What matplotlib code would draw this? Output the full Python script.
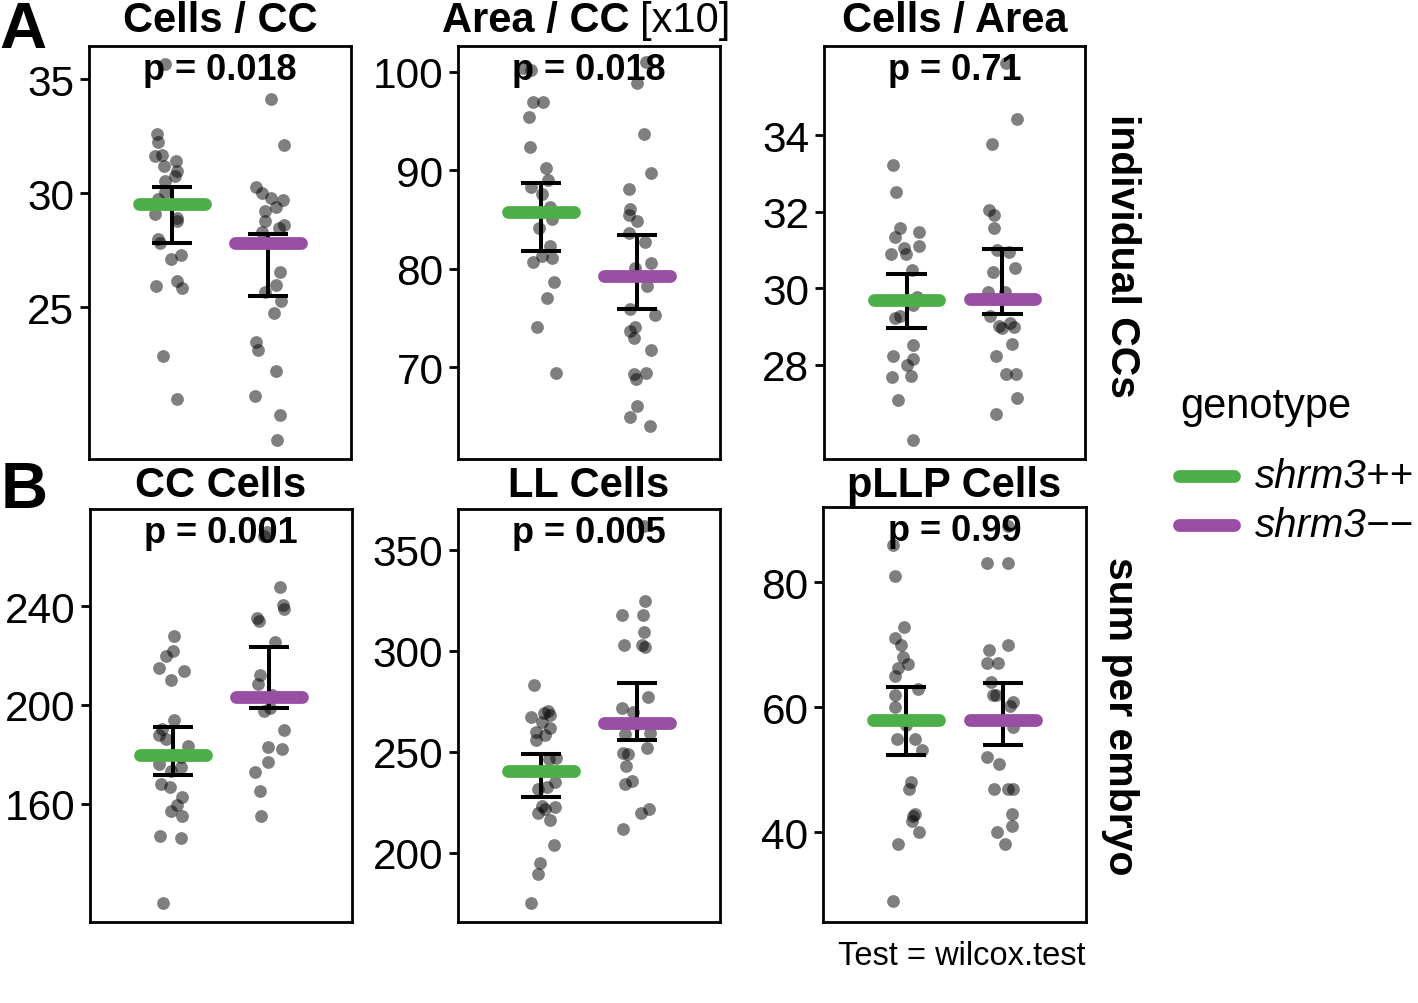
import matplotlib
matplotlib.use('Agg')
import matplotlib.pyplot as plt
from matplotlib.lines import Line2D
import numpy as np

plt.rcParams['font.family'] = ['Liberation Sans', 'DejaVu Sans']

# ---- data (values + horizontal jitter in category units) ----
groups = ['shrm3++', 'shrm3\u2212\u2212']
colors = ['#4DAF4A', '#984EA3']

# A: Cells / CC
cells_cc_wt = [35.67, 32.6, 32.26, 31.65, 31.7, 31.4, 31.2, 30.99, 30.77, 30.55, 30.05, 29.75,
               29.1, 28.9, 28.8, 28.0, 27.8, 27.1, 27.3, 26.17, 25.86, 25.92, 22.88, 20.98]
cells_cc_wt_jit = [-0.07, -0.15, -0.14, -0.17, -0.10, 0.04, -0.08, 0.05, 0.03, -0.07, -0.07, -0.145,
                   -0.17, 0.05, 0.05, -0.145, -0.12, -0.01, 0.09, 0.05, 0.11, -0.16, -0.09, 0.05]
cells_cc_mut = [34.13, 32.13, 30.26, 30.0, 29.78, 29.7, 29.24, 29.4, 28.8, 28.6, 28.29, 28.5,
                26.53, 26.0, 25.66, 25.29, 24.74, 23.5, 23.14, 22.19, 21.1, 20.29, 19.19]
cells_cc_mut_jit = [0.03, 0.16, -0.13, -0.06, 0.03, 0.15, -0.03, 0.08, -0.03, 0.16, -0.06, 0.11,
                    0.12, 0.08, -0.03, 0.13, 0.06, -0.125, -0.11, 0.08, -0.14, 0.12, 0.09]
cells_cc_mean = [29.53, 27.83]
cells_cc_lo = [27.83, 25.51]
cells_cc_hi = [30.26, 28.21]

# A: Area / CC [x10]
area_cc_wt = [100.36, 100.15, 96.94, 96.94, 95.35, 92.37, 90.17, 88.98, 88.24, 87.56, 86.28, 85.03,
              84.08, 82.3, 81.3, 81.03, 80.7, 78.66, 77.0, 74.03, 69.36]
area_cc_wt_jit = [-0.19, -0.10, -0.08, 0.02, -0.125, -0.11, 0.05, 0.07, -0.10, 0.01, 0.10, 0.12,
                  -0.02, 0.09, 0.01, 0.12, -0.08, 0.14, 0.06, -0.04, 0.16]
area_cc_mut = [100.93, 98.83, 93.65, 89.7, 88.07, 86.04, 85.4, 84.85, 83.57, 82.72, 80.6, 80.1,
               78.25, 75.9, 75.28, 74.03, 73.7, 72.94, 71.76, 69.4, 69.3, 68.8, 66.0, 64.9, 64.04]
area_cc_mut_jit = [0.09, 0.0, 0.07, 0.14, -0.08, -0.07, -0.08, 0.0, -0.08, 0.08, 0.14, -0.02,
                   0.10, -0.07, 0.19, -0.02, -0.07, -0.03, 0.14, 0.09, -0.03, -0.01, 0.0, -0.07, 0.135]
area_cc_mean = [85.7, 79.2]
area_cc_lo = [81.75, 75.9]
area_cc_hi = [88.65, 83.4]

# A: Cells / Area
cells_area_wt = [33.22, 32.52, 31.58, 31.47, 31.34, 31.1, 31.04, 30.89, 30.89, 30.48, 29.76, 29.56,
                 29.23, 29.27, 28.52, 28.23, 28.15, 28.0, 27.71, 27.68, 27.08, 26.04]
cells_area_wt_jit = [-0.14, -0.11, -0.07, 0.125, -0.125, 0.13, -0.03, -0.16, -0.01, 0.055, 0.11, 0.065,
                     -0.125, -0.065, 0.07, -0.145, 0.065, 0.0, 0.05, -0.15, -0.09, 0.07]
cells_area_mut = [35.89, 34.41, 33.76, 32.04, 31.91, 31.58, 31.0, 30.95, 30.54, 30.43, 29.89, 29.89,
                  29.28, 29.1, 29.02, 29.0, 28.95, 28.54, 28.22, 27.75, 27.75, 27.13, 26.71]
cells_area_mut_jit = [0.04, 0.15, -0.105, -0.145, -0.09, -0.09, -0.06, 0.065, 0.135, -0.10, -0.15, 0.03,
                      -0.125, 0.075, -0.04, 0.12, -0.005, 0.10, -0.065, 0.04, 0.145, 0.15, -0.07]
cells_area_mean = [29.69, 29.71]
cells_area_lo = [28.97, 29.34]
cells_area_hi = [30.37, 31.02]

# B: CC Cells
cc_cells_wt = [228.1, 222.0, 220.0, 214.8, 213.9, 209.9, 193.7, 190.3, 187.6, 186.2, 183.3, 178.8,
               176.1, 174.8, 173.4, 168.0, 166.7, 162.6, 159.5, 157.0, 154.8, 146.8, 146.0, 119.8]
cc_cells_wt_jit = [0.01, 0.0, -0.07, -0.14, 0.12, -0.02, 0.01, -0.11, -0.14, -0.07, 0.16, 0.08,
                   -0.14, 0.08, -0.02, -0.12, -0.03, 0.10, 0.04, -0.02, 0.10, -0.13, 0.08, -0.10]
cc_cells_mut = [269.9, 268.3, 247.9, 240.6, 238.9, 235.1, 233.9, 225.4, 212.1, 208.5, 204.0, 197.4,
                198.7, 189.9, 182.9, 182.2, 176.8, 172.7, 164.9, 154.8]
cc_cells_mut_jit = [-0.02, -0.055, 0.11, 0.14, 0.15, -0.13, -0.11, 0.06, -0.10, -0.12, 0.03, -0.055,
                    0.01, 0.15, -0.01, 0.13, -0.015, -0.15, -0.10, -0.08]
cc_cells_mean = [179.5, 203.0]
cc_cells_lo = [171.7, 198.65]
cc_cells_hi = [191.2, 223.3]

# B: LL Cells
ll_cells_wt = [283.0, 270.3, 269.0, 267.0, 268.1, 264.5, 262.0, 259.9, 258.2, 255.7, 246.8, 246.3,
               240.5, 235.1, 232.3, 231.4, 223.2, 222.8, 221.5, 219.9, 216.1, 203.7, 194.8, 189.6, 174.9]
ll_cells_wt_jit = [-0.07, 0.07, 0.03, -0.10, 0.095, 0.01, 0.095, -0.05, 0.04, -0.05, 0.16, 0.08,
                   0.04, 0.15, 0.06, -0.03, 0.01, 0.15, 0.04, -0.03, 0.095, 0.14, -0.01, -0.03, -0.10]
ll_cells_mut = [362.0, 324.8, 317.8, 317.8, 309.1, 302.8, 302.8, 301.7, 276.9, 271.9, 269.8, 263.7,
                258.7, 259.2, 252.1, 249.6, 248.8, 243.0, 233.9, 235.6, 221.9, 219.9, 211.9]
ll_cells_mut_jit = [0.07, 0.08, -0.16, 0.06, 0.07, -0.14, 0.055, 0.08, 0.11, -0.16, -0.04, 0.0,
                    -0.13, 0.13, 0.10, -0.15, -0.10, -0.12, -0.13, -0.05, 0.12, 0.045, -0.15]
ll_cells_mean = [240.5, 264.0]
ll_cells_lo = [227.6, 255.7]
ll_cells_hi = [249.1, 283.8]

# B: pLLP Cells
pllp_cells_wt = [86.0, 81.0, 72.9, 71.1, 69.9, 68.1, 66.9, 66.2, 65.0, 63.0, 62.0, 60.1,
                 57.1, 55.0, 55.0, 53.1, 48.0, 47.0, 43.0, 42.6, 41.9, 40.1, 38.1, 29.0]
pllp_cells_wt_jit = [-0.14, -0.12, -0.02, -0.12, -0.05, -0.03, 0.02, -0.08, -0.12, 0.12, -0.12, -0.12,
                     0.0, -0.09, 0.09, 0.16, 0.045, 0.03, 0.09, 0.07, 0.06, 0.13, -0.08, -0.14]
pllp_cells_mut = [89.0, 83.1, 83.1, 70.0, 69.1, 67.0, 67.0, 64.1, 62.0, 61.9, 60.9, 60.2,
                  56.9, 52.0, 51.0, 46.9, 46.9, 46.9, 42.9, 41.0, 40.0, 38.1]
pllp_cells_mut_jit = [0.05, -0.165, 0.05, 0.05, -0.14, -0.16, -0.05, -0.125, -0.10, -0.07, 0.10, 0.07,
                      0.10, -0.16, -0.04, -0.09, 0.05, 0.11, 0.09, 0.09, -0.06, 0.02]
pllp_cells_mean = [58.0, 58.0]
pllp_cells_lo = [52.3, 53.95]
pllp_cells_hi = [63.3, 63.85]

titles = ['Cells / CC', 'Area / CC', 'Cells / Area', 'CC Cells', 'LL Cells', 'pLLP Cells']
pvalues = ['p = 0.018', 'p = 0.018', 'p = 0.71', 'p = 0.001', 'p = 0.005', 'p = 0.99']
yticks = [[25, 30, 35], [70, 80, 90, 100], [28, 30, 32, 34],
          [160, 200, 240], [200, 250, 300, 350], [40, 60, 80]]
ylims = [(18.35, 36.46), (60.66, 102.6), (25.54, 36.33),
         (112.0, 279.4), (165.7, 370.2), (25.7, 92.0)]

panels = [
    (cells_cc_wt, cells_cc_wt_jit, cells_cc_mut, cells_cc_mut_jit, cells_cc_mean, cells_cc_lo, cells_cc_hi),
    (area_cc_wt, area_cc_wt_jit, area_cc_mut, area_cc_mut_jit, area_cc_mean, area_cc_lo, area_cc_hi),
    (cells_area_wt, cells_area_wt_jit, cells_area_mut, cells_area_mut_jit, cells_area_mean, cells_area_lo, cells_area_hi),
    (cc_cells_wt, cc_cells_wt_jit, cc_cells_mut, cc_cells_mut_jit, cc_cells_mean, cc_cells_lo, cc_cells_hi),
    (ll_cells_wt, ll_cells_wt_jit, ll_cells_mut, ll_cells_mut_jit, ll_cells_mean, ll_cells_lo, ll_cells_hi),
    (pllp_cells_wt, pllp_cells_wt_jit, pllp_cells_mut, pllp_cells_mut_jit, pllp_cells_mean, pllp_cells_lo, pllp_cells_hi),
]

# ---- layout (pixels) ----
W, H = 1418, 1004
fig = plt.figure(figsize=(W / 100, H / 100), dpi=100)
boxes = [(89, 47, 351, 460), (458, 47, 720, 460), (824, 47, 1085, 460),
         (90, 510, 352, 923), (458, 510, 720, 923), (823, 508, 1086, 923)]


def fx(x):
    return x / W


def fy(y):
    return 1 - y / H


def draw_panel(ax, wt, wt_jit, mut, mut_jit, mean, lo, hi):
    for i, (vals, jit) in enumerate([(wt, wt_jit), (mut, mut_jit)]):
        x = (i + 1) + np.array(jit)
        ax.scatter(x, vals, s=85, c='black', alpha=0.5, linewidths=0, zorder=2)
    for i in range(2):
        xc = i + 1
        ax.plot([xc, xc], [lo[i], hi[i]], color='black', lw=2.9, solid_capstyle='butt', zorder=3)
        ax.plot([xc - 0.21, xc + 0.21], [hi[i], hi[i]], color='black', lw=2.9, solid_capstyle='butt', zorder=3)
        ax.plot([xc - 0.21, xc + 0.21], [lo[i], lo[i]], color='black', lw=2.9, solid_capstyle='butt', zorder=3)
        ax.plot([xc - 0.34, xc + 0.34], [mean[i], mean[i]], color=colors[i], lw=9.2,
                solid_capstyle='round', zorder=4)


for k, (box, data) in enumerate(zip(boxes, panels)):
    l, t, r, b = box
    ax = fig.add_axes([fx(l), fy(b), fx(r - l), (b - t) / H])
    draw_panel(ax, *data)
    ax.set_xlim(0.14, 2.86)
    ax.set_ylim(*ylims[k])
    ax.set_xticks([])
    ax.set_yticks(yticks[k])
    ax.tick_params(axis='y', labelsize=30.5, length=6.5, width=2, pad=4, colors='black')
    for sp in ax.spines.values():
        sp.set_linewidth(2)
        sp.set_color('black')
    ax.text(0.5, 0.921, pvalues[k], transform=ax.transAxes, ha='center', va='baseline',
            fontsize=26, fontweight='bold', zorder=6)
    base = 32 if k < 3 else 497
    if k == 1:
        fig.text(fx(630), fy(base), titles[k], ha='right', va='baseline', fontsize=30, fontweight='bold')
        fig.text(fx(640), fy(base), '[x10]', ha='left', va='baseline', fontsize=30)
    else:
        fig.text(fx((l + r) / 2), fy(base), titles[k], ha='center', va='baseline',
                 fontsize=30, fontweight='bold')

# panel letters
fig.text(fx(23), fy(31), 'A', ha='center', va='center', fontsize=47, fontweight='bold')
fig.text(fx(24), fy(491), 'B', ha='center', va='center', fontsize=47, fontweight='bold')

# row strip labels
fig.text(fx(1122), fy(256), 'individual CCs', rotation=-90, ha='center', va='center',
         fontsize=29.5, fontweight='bold')
fig.text(fx(1120), fy(716), 'sum per embryo', rotation=-90, ha='center', va='center',
         fontsize=29.5, fontweight='bold')

# legend
fig.text(fx(1180), fy(418), 'genotype', ha='left', va='baseline', fontsize=30)
for i, (yk, yb) in enumerate([(477, 488), (525.7, 536.7)]):
    fig.add_artist(Line2D([fx(1179), fx(1234)], [fy(yk), fy(yk)], transform=fig.transFigure,
                          color=colors[i], lw=9.2, solid_capstyle='round'))
    fig.text(fx(1255), fy(yb), groups[i], ha='left', va='baseline', fontsize=29, style='italic')

fig.text(fx(1086), fy(965), 'Test = wilcox.test', ha='right', va='baseline', fontsize=23.5)

fig.savefig('out.png', dpi=100)
